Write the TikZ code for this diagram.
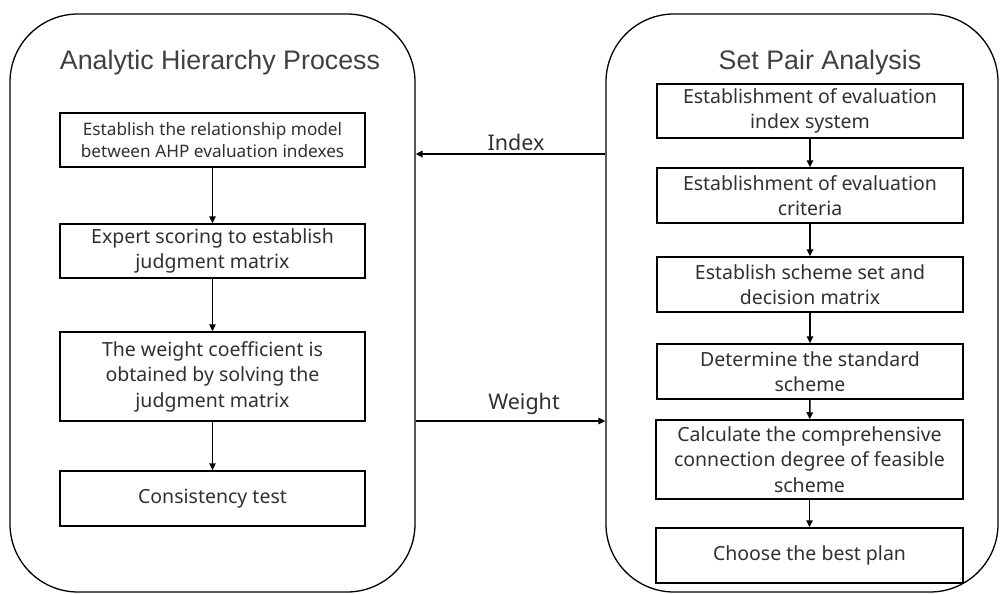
\documentclass[tikz,border=0pt]{standalone}
\usepackage{fontspec}
\setmainfont{Liberation Sans}
\newfontfamily\boxfont{Noto Sans}
\usetikzlibrary{arrows.meta}
\definecolor{txt}{HTML}{303030}
\definecolor{ttl}{HTML}{404040}
\begin{document}
\begin{tikzpicture}[x=1pt,y=-1pt,
  panel/.style={draw=black,line width=1.3pt,rounded corners=68pt,inner sep=0pt},
  stepbox/.style={draw=black,line width=1.5pt,inner sep=0pt,align=center,
    text=txt,font=\boxfont\fontsize{19.5}{25.5}\selectfont},
  ttlstyle/.style={text=ttl,font=\fontsize{26.8}{30}\selectfont,inner sep=0pt},
  lbl/.style={text=txt,font=\boxfont\fontsize{21.5}{24}\selectfont,inner sep=0pt},
  arr/.style={draw=black,line width=1.5pt,-{Triangle[length=7pt,width=6.5pt]}}]
\useasboundingbox (0,0) rectangle (1002,594);

% the two method panels
\node[panel,minimum width=405pt,minimum height=578pt] (ahp) at (212.5,303) {};
\node[panel,minimum width=392pt,minimum height=578pt] (spa) at (802,303) {};

\node[ttlstyle] (ahpt) at (220,63) {Analytic Hierarchy Process};
\node[ttlstyle] (spat) at (820,63) {Set Pair Analysis};

% AHP steps
\node[stepbox,minimum width=305pt,minimum height=54pt,
  font=\boxfont\fontsize{17.2}{22}\selectfont] (a1) at (212.5,140)
  {Establish the relationship model\\between AHP evaluation indexes};
\node[stepbox,minimum width=305pt,minimum height=54pt] (a2) at (212.5,251)
  {Expert scoring to establish\\judgment matrix};
\node[stepbox,minimum width=305pt,minimum height=89pt] (a3) at (212.5,376.5)
  {The weight coefficient is\\obtained by solving the\\judgment matrix};
\node[stepbox,minimum width=305pt,minimum height=55pt] (a4) at (212.5,498.5)
  {Consistency test};

% SPA steps
\node[stepbox,minimum width=306pt,minimum height=54pt] (s1) at (810,111)
  {Establishment of evaluation\\index system};
\node[stepbox,minimum width=306pt,minimum height=55pt] (s2) at (810,195.5)
  {Establishment of evaluation\\criteria};
\node[stepbox,minimum width=306pt,minimum height=55pt] (s3) at (810,284.5)
  {Establish scheme set and\\decision matrix};
\node[stepbox,minimum width=306pt,minimum height=55pt] (s4) at (810,371.5)
  {Determine the standard\\scheme};
\node[stepbox,minimum width=307pt,minimum height=79pt] (s5) at (809.5,459.5)
  {Calculate the comprehensive\\connection degree of feasible\\scheme};
\node[stepbox,minimum width=307pt,minimum height=55pt] (s6) at (809.5,555.5)
  {Choose the best plan};

% flow inside the panels
\draw[arr] (a1) -- (a2);
\draw[arr] (a2) -- (a3);
\draw[arr] (a3) -- (a4);
\draw[arr] (s1) -- (s2);
\draw[arr] (s2) -- (s3);
\draw[arr] (s3) -- (s4);
\draw[arr] (s4) -- (s5);
\draw[arr] (s5) -- (s6);

% exchange between the panels
\coordinate (idx) at (510,154);
\coordinate (wgt) at (510,421);
\draw[arr] (spa.west |- idx) -- (ahp.east |- idx);
\draw[arr] (ahp.east |- wgt) -- (spa.west |- wgt);
\node[lbl] (idxl) at (516,142) {Index};
\node[lbl] (wgtl) at (524,404) {Weight};
\end{tikzpicture}
\end{document}
